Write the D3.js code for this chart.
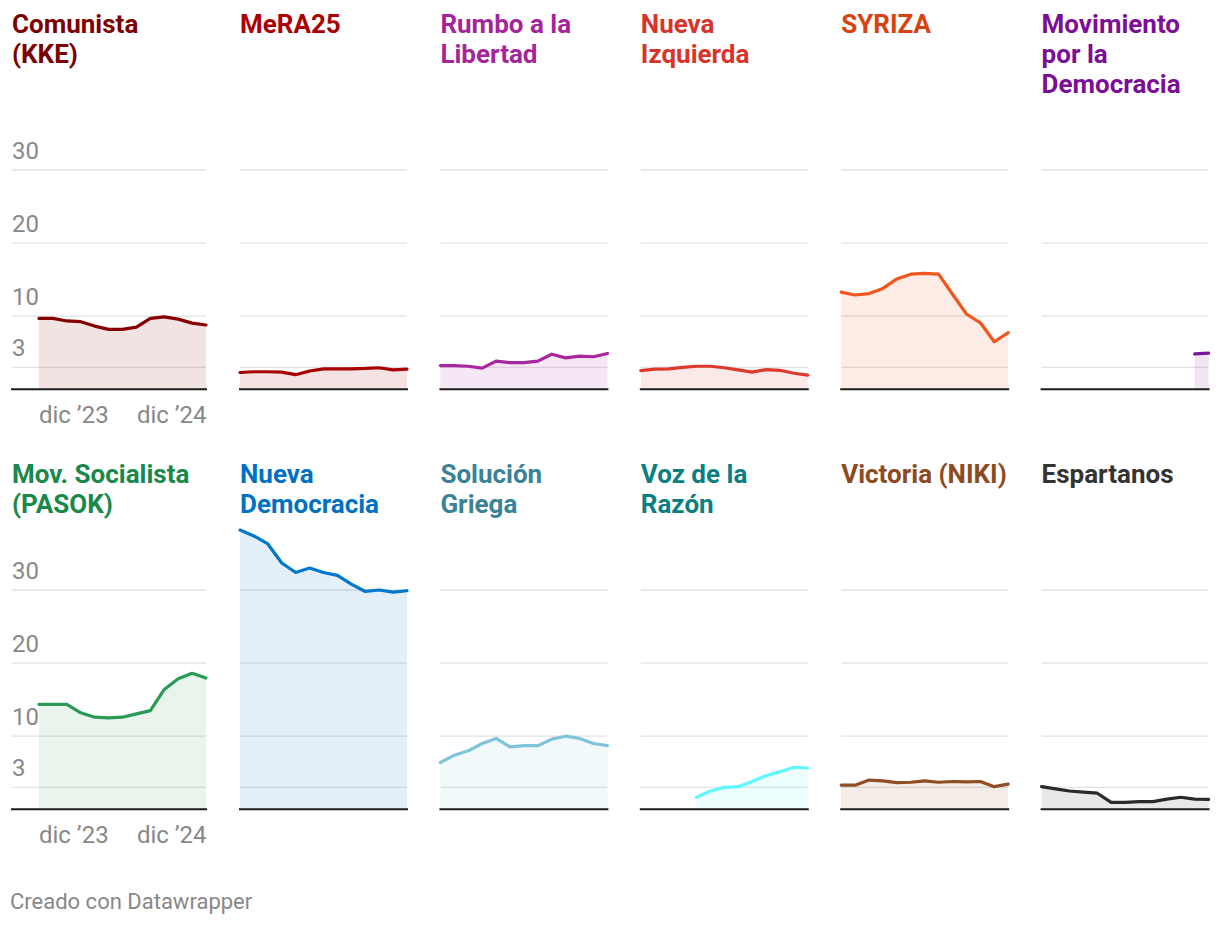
<!DOCTYPE html>
<html><head><meta charset="utf-8">
<script src="https://cdn.jsdelivr.net/npm/d3@7"></script>
<style>
html,body{margin:0;padding:0;background:#fff;}
svg text{font-family:Roboto, "Noto Sans", sans-serif;}
</style>
</head><body>
<svg id="chart" width="1220" height="926"></svg>
<script>
// ---- data ----
const dates = ["2023-07-24","2023-09-14","2023-11-05","2023-12-27","2024-02-17","2024-04-09","2024-05-31","2024-07-22","2024-09-12","2024-11-03","2024-12-25","2025-02-15","2025-04-08"];
const partyNames = ["Comunista\n(KKE)","MeRA25","Rumbo a la\nLibertad","Nueva\nIzquierda","SYRIZA","Movimiento\npor la\nDemocracia",
  "Mov. Socialista\n(PASOK)","Nueva\nDemocracia","Solución\nGriega","Voz de la\nRazón","Victoria (NIKI)","Espartanos"];
const kke        = [9.7, 9.7, 9.35, 9.25, 8.65, 8.2, 8.2, 8.5, 9.7, 9.9, 9.6, 9.05, 8.8];
const mera25     = [2.3, 2.4, 2.4, 2.35, 2.0, 2.5, 2.8, 2.8, 2.8, 2.85, 2.95, 2.65, 2.75];
const rumbo      = [3.25, 3.25, 3.15, 2.9, 3.85, 3.65, 3.65, 3.85, 4.8, 4.3, 4.55, 4.45, 4.9];
const nuevaIzq   = [2.55, 2.75, 2.8, 3.0, 3.15, 3.15, 2.95, 2.65, 2.35, 2.7, 2.6, 2.2, 1.95];
const syriza     = [13.3, 12.9, 13.1, 13.8, 15.1, 15.75, 15.85, 15.75, 13.0, 10.3, 9.1, 6.5, 7.75];
const movDemo    = [null, null, null, null, null, null, null, null, null, null, null, 4.85, 4.95];
const pasok      = [14.35, 14.35, 14.35, 13.2, 12.6, 12.5, 12.6, 13.05, 13.5, 16.4, 17.85, 18.6, 17.95];
const nd         = [38.2, 37.4, 36.3, 33.7, 32.4, 33.0, 32.4, 32.0, 30.8, 29.8, 30.0, 29.7, 29.9];
const solucion   = [6.4, 7.4, 8.0, 9.0, 9.7, 8.55, 8.7, 8.7, 9.6, 10.0, 9.7, 9.0, 8.7];
const vozRazon   = [null, null, null, null, 1.65, 2.5, 3.0, 3.1, 3.8, 4.6, 5.15, 5.75, 5.65];
const victoria   = [3.3, 3.3, 4.0, 3.9, 3.65, 3.7, 3.9, 3.7, 3.8, 3.75, 3.8, 3.1, 3.45];
const espartanos = [3.1, 2.8, 2.5, 2.35, 2.2, 0.95, 0.95, 1.05, 1.05, 1.4, 1.65, 1.4, 1.35];
const seriesValues = [kke, mera25, rumbo, nuevaIzq, syriza, movDemo, pasok, nd, solucion, vozRazon, victoria, espartanos];
const lineColors  = ["#860000","#a80000","#a8279e","#df382c","#f0561f","#7d149c","#2a9a55","#0077cc","#7ec4da","#5ff6ff","#8f4e23","#2a2a2a"];
const titleColors = ["#7c0000","#aa0000","#a4259b","#d9332b","#d9420f","#7b0d97","#18894a","#0071c1","#3a8296","#0a7f80","#8d4a22","#333333"];
const yTicks = [3, 10, 20, 30];
const xTickDates = ["2023-12-01","2024-12-01"];
const xTickLabels = ["dic ’23","dic ’24"];
const footer = "Creado con Datawrapper";

// ---- layout ----
const svg = d3.select("#chart");
const plotW = 167;
const colX = [39, 240, 440.4, 640.8, 841.2, 1041.6];
const rowBase = [389.3, 809.3];
const titleBase = [33.3, 483.3];
const parse = d3.timeParse("%Y-%m-%d");
const parsedDates = dates.map(parse);

const x = d3.scaleTime().domain(d3.extent(parsedDates)).range([0, plotW]);
const y = d3.scaleLinear().domain([0, 40]).range([0, -292.4]);

partyNames.forEach((name, i) => {
  const col = i % 6, row = Math.floor(i / 6);
  const g = svg.append("g").attr("transform", `translate(${colX[col]},${rowBase[row]})`);
  const left = col === 0 ? -27 : 0;
  const tx = colX[col] + left;

  // title
  const t = svg.append("text")
    .attr("x", tx)
    .attr("y", titleBase[row])
    .attr("fill", titleColors[i])
    .attr("font-size", 26)
    .attr("font-weight", 700);
  name.split("\n").forEach((ln, k) => {
    t.append("tspan").attr("x", tx).attr("dy", k === 0 ? 0 : 30).text(ln);
  });

  // gridlines
  g.selectAll("line.grid").data(yTicks).join("line")
    .attr("class", "grid")
    .attr("x1", left).attr("x2", plotW)
    .attr("y1", d => y(d)).attr("y2", d => y(d))
    .attr("stroke", "#e2e2e2").attr("stroke-width", 1.3);

  if (col === 0) {
    g.selectAll("text.ytick").data(yTicks).join("text")
      .attr("class", "ytick")
      .attr("x", left).attr("y", d => y(d) - 11)
      .attr("fill", "#888").attr("font-size", 24)
      .text(d => d);
    g.selectAll("text.xtick").data(xTickDates).join("text")
      .attr("class", "xtick")
      .attr("x", d => x(parse(d))).attr("y", 34)
      .attr("text-anchor", "middle")
      .attr("fill", "#888").attr("font-size", 24)
      .text((d, k) => xTickLabels[k]);
  }

  const pts = parsedDates.map((d, k) => ({ d, v: seriesValues[i][k] }));
  const def = p => p.v !== null && p.v !== undefined;
  const area = d3.area().defined(def).x(p => x(p.d)).y0(y(0)).y1(p => y(p.v));
  const line = d3.line().defined(def).x(p => x(p.d)).y(p => y(p.v));

  g.append("path").datum(pts).attr("d", area)
    .attr("fill", lineColors[i]).attr("fill-opacity", 0.11);
  g.append("path").datum(pts).attr("d", line)
    .attr("fill", "none").attr("stroke", lineColors[i])
    .attr("stroke-width", 3.2).attr("stroke-linejoin", "round").attr("stroke-linecap", "round");

  // baseline
  g.append("line")
    .attr("x1", left - 1).attr("x2", plotW + 1)
    .attr("y1", 0).attr("y2", 0)
    .attr("stroke", "#1d1d1d").attr("stroke-width", 2);
});

svg.append("text").attr("x", 10).attr("y", 909)
  .attr("fill", "#888").attr("font-size", 22).text(footer);
</script>
</body></html>
